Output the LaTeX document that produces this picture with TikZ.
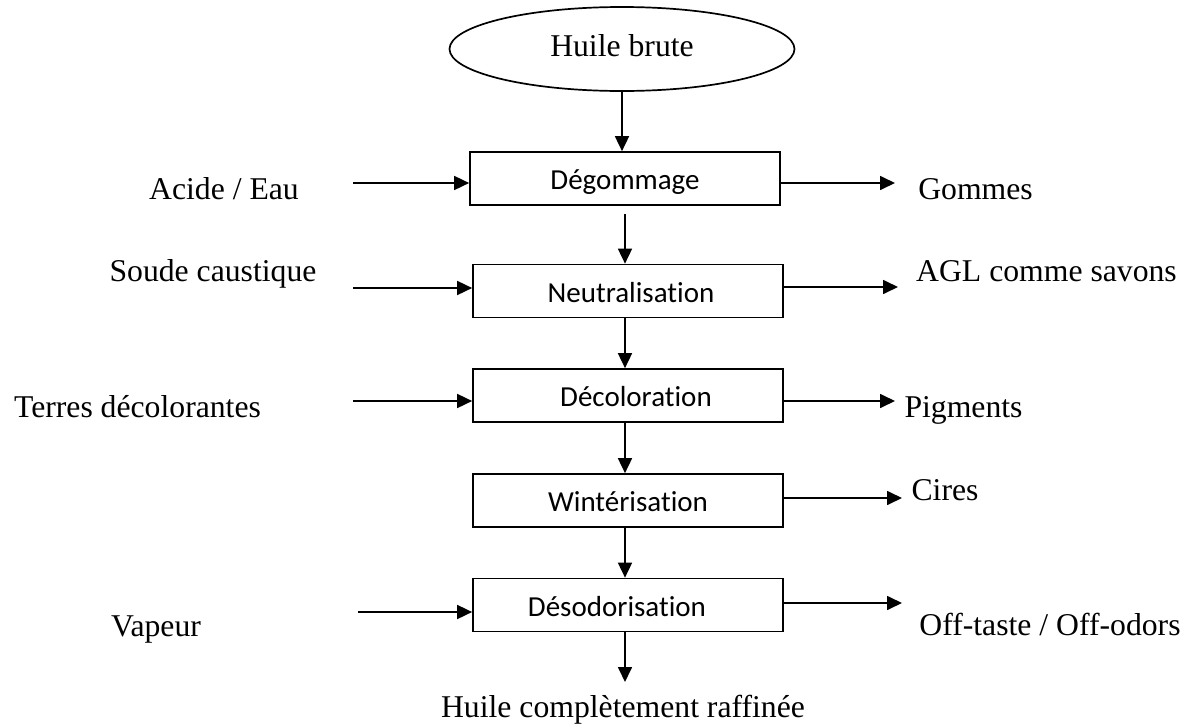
\documentclass[tikz,border=0pt]{standalone}
\usepackage{fontspec}
\setmainfont{Liberation Serif}
\newfontfamily\boxfont[Ligatures={NoCommon}]{Carlito}
\usetikzlibrary{arrows.meta,shapes.geometric}
\begin{document}
\begin{tikzpicture}[x=1pt,y=-1pt,
  line width=1.7pt,
  arr/.style={-{Triangle[length=15pt,width=14pt]}},
  stepbox/.style={draw,rectangle,minimum width=310pt,minimum height=53pt,inner sep=0pt,
    font=\boxfont\fontsize{29}{34}\selectfont,text height=22pt,text depth=0pt},
  lbl/.style={anchor=base,inner sep=0pt,font=\fontsize{31.7}{38}\selectfont},
]
\useasboundingbox (0,0) rectangle (1187,726);

\node[ellipse,draw,minimum width=345pt,minimum height=84pt,inner sep=0pt,
  font=\fontsize{31.7}{38}\selectfont,text height=14pt,text depth=0pt] (raw) at (622,49) {Huile brute};

\node[stepbox] (b1) at (625,178.5) {Dégommage};
\node[stepbox] (b2) at (628,291) {\hspace*{6pt}Neutralisation};
\node[stepbox] (b3) at (628,395.5) {\hspace*{16pt}Décoloration};
\node[stepbox] (b4) at (628,500.5) {Wintérisation};
\node[stepbox] (b5) at (628,605) {Désodorisation\hspace*{22pt}};

\draw[arr] (raw.south) -- (raw.south |- b1.north);
\draw[arr, shorten <=8pt] (b1.south) -- (b1.south |- b2.north);
\draw[arr] (b2.south -| b1.south) -- (b1.south |- b3.north);
\draw[arr] (b3.south -| b1.south) -- (b1.south |- b4.north);
\draw[arr] (b4.south -| b1.south) -- (b1.south |- b5.north);
\coordinate (fin) at (625,682);
\draw[arr] (b5.south -| fin) -- (fin);
\node[lbl] (out) at (623,717) {Huile complètement raffinée};

% inputs
\coordinate (in1) at (353,183);
\coordinate (in2) at (353,288);
\coordinate (in3) at (353,401);
\coordinate (in5) at (358,612);
\draw[arr] (in1) -- (in1 -| b1.west);
\draw[arr] (in2) -- (in2 -| b2.west);
\draw[arr] (in3) -- (in3 -| b3.west);
\draw[arr] (in5) -- (in5 -| b5.west);

% outputs
\coordinate (out1) at (895,183);
\coordinate (out2) at (898,287);
\coordinate (out3) at (895,401);
\coordinate (out4) at (902,498);
\coordinate (out5) at (902,603);
\draw[arr] (out1 -| b1.east) -- (out1);
\draw[arr] (out2 -| b2.east) -- (out2);
\draw[arr] (out3 -| b3.east) -- (out3);
\draw[arr] (out4 -| b4.east) -- (out4);
\draw[arr] (out5 -| b5.east) -- (out5);

% labels
\node[lbl] (l1) at (224,199) {Acide / Eau};
\node[lbl] (l2) at (213,281) {Soude caustique};
\node[lbl] (l3) at (137.5,417) {Terres décolorantes};
\node[lbl] (l5) at (156,636) {Vapeur};
\node[lbl] (r1) at (975.5,199) {Gommes};
\node[lbl] (r2) at (1046.5,281) {AGL comme savons};
\node[lbl] (r3) at (963.5,417) {Pigments};
\node[lbl] (r4) at (945,500) {Cires};
\node[lbl] (r5) at (1050,635) {Off-taste / Off-odors};
\end{tikzpicture}
\end{document}
